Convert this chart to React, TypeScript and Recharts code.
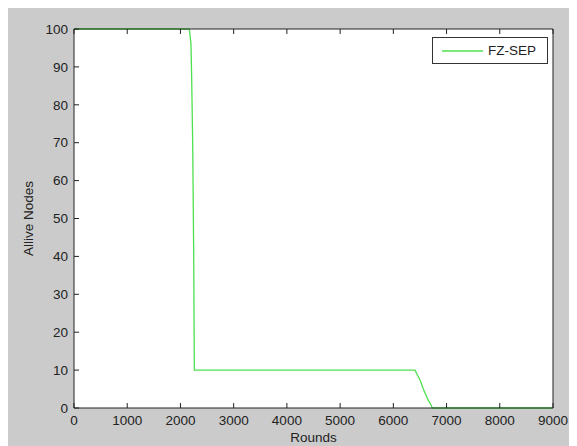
import {CartesianGrid, Legend, Line, LineChart, XAxis, YAxis} from "recharts"

// alive nodes per round for the FZ-SEP protocol
const rounds = [0, 2167, 2198, 2211, 2230, 2249, 2261, 6407, 6514, 6563, 6657, 6702, 6733, 9000]
const aliveNodes = [100, 100, 96, 87, 70, 41, 10, 10, 7, 5, 2, 1, 0, 0]

const roundTicks = [0, 1000, 2000, 3000, 4000, 5000, 6000, 7000, 8000, 9000]
const nodeTicks = [0, 10, 20, 30, 40, 50, 60, 70, 80, 90, 100]

const seriesName = "FZ-SEP"

const chartData = rounds.map((r, i) => ({round: r, alive: aliveNodes[i]}))

const font = "'Liberation Sans', Arial, sans-serif"
const textColor = "#222"
const axisColor = "#222"
const lineColor = "#4fe04f"
const TICK = 5

// matlab style ticks: short marks pointing into the plot box
function BottomTick({x, y, payload}: any) {
    return (
        <g>
            <line x1={x} x2={x} y1={y} y2={y - TICK} stroke={axisColor}/>
            <text x={x} y={y + 7} dy="0.71em" textAnchor="middle" fontFamily={font} fontSize={13.5}
                  fill={textColor}>{payload.value}</text>
        </g>
    )
}

function LeftTick({x, y, payload}: any) {
    return (
        <g>
            <line x1={x} x2={x + TICK} y1={y} y2={y} stroke={axisColor}/>
            <text x={x - 6} y={y} dy="0.355em" textAnchor="end" fontFamily={font} fontSize={13.5}
                  fill={textColor}>{payload.value}</text>
        </g>
    )
}

function TopTick({x, y}: any) {
    return <line x1={x} x2={x} y1={y} y2={y + TICK} stroke={axisColor}/>
}

function RightTick({x, y}: any) {
    return <line x1={x} x2={x - TICK} y1={y} y2={y} stroke={axisColor}/>
}

function LegendBox({payload}: any) {
    const item = payload && payload[0]
    return (
        <div style={{
            width: 114, height: 25, border: "1px solid #333", background: "#fff",
            display: "flex", alignItems: "center", fontFamily: font, fontSize: 13.5, color: textColor,
        }}>
            <svg width={52} height={25}>
                <line x1={9} x2={50} y1={13} y2={13} stroke={lineColor} strokeWidth={1.3}/>
            </svg>
            <span style={{marginLeft: 3}}>{item ? item.value : seriesName}</span>
        </div>
    )
}

export default function App() {
    return (
        <div style={{width: 569, height: 438, background: "#cbcbcb"}}>
            <LineChart width={569} height={438} data={chartData}
                       margin={{top: 20, right: 23, left: 0, bottom: 0}}>
                <CartesianGrid fill="#fff" horizontal={false} vertical={false} strokeOpacity={0}/>
                <XAxis
                    xAxisId="bottom"
                    dataKey="round"
                    type="number"
                    domain={[0, 9000]}
                    ticks={roundTicks}
                    height={38}
                    stroke={axisColor}
                    tickLine={false}
                    tickSize={0}
                    tickMargin={0}
                    tick={<BottomTick/>}
                    interval={0}
                    label={{
                        content: ({viewBox}: any) => (
                            <text x={viewBox.x + viewBox.width / 2} y={viewBox.y + 34} textAnchor="middle"
                                  fontFamily={font} fontSize={13.5} fill={textColor}>Rounds</text>
                        ),
                    }}
                />
                <XAxis
                    xAxisId="top"
                    orientation="top"
                    dataKey="round"
                    type="number"
                    domain={[0, 9000]}
                    ticks={roundTicks}
                    height={1}
                    stroke={axisColor}
                    tickLine={false}
                    tickSize={0}
                    tickMargin={0}
                    tick={<TopTick/>}
                    interval={0}
                />
                <YAxis
                    yAxisId="left"
                    type="number"
                    domain={[0, 100]}
                    ticks={nodeTicks}
                    width={66}
                    stroke={axisColor}
                    tickLine={false}
                    tickSize={0}
                    tickMargin={0}
                    tick={<LeftTick/>}
                    interval={0}
                    label={{
                        content: ({viewBox}: any) => {
                            const cx = 20
                            const cy = viewBox.y + viewBox.height / 2
                            return (
                                <text x={cx} y={cy} transform={`rotate(-90 ${cx} ${cy})`} textAnchor="middle"
                                      dominantBaseline="central" fontFamily={font} fontSize={13.5}
                                      fill={textColor}>Allive Nodes</text>
                            )
                        },
                    }}
                />
                <YAxis
                    yAxisId="right"
                    orientation="right"
                    type="number"
                    domain={[0, 100]}
                    ticks={nodeTicks}
                    width={1}
                    stroke={axisColor}
                    tickLine={false}
                    tickSize={0}
                    tickMargin={0}
                    tick={<RightTick/>}
                    interval={0}
                />
                <Legend
                    layout="horizontal"
                    verticalAlign="middle"
                    align="center"
                    content={<LegendBox/>}
                    wrapperStyle={{top: 29, left: 424, width: 116}}
                />
                <Line
                    xAxisId="bottom"
                    yAxisId="left"
                    name={seriesName}
                    type="linear"
                    dataKey="alive"
                    stroke={lineColor}
                    strokeWidth={1.3}
                    dot={false}
                    isAnimationActive={false}
                />
            </LineChart>
        </div>
    )
}
